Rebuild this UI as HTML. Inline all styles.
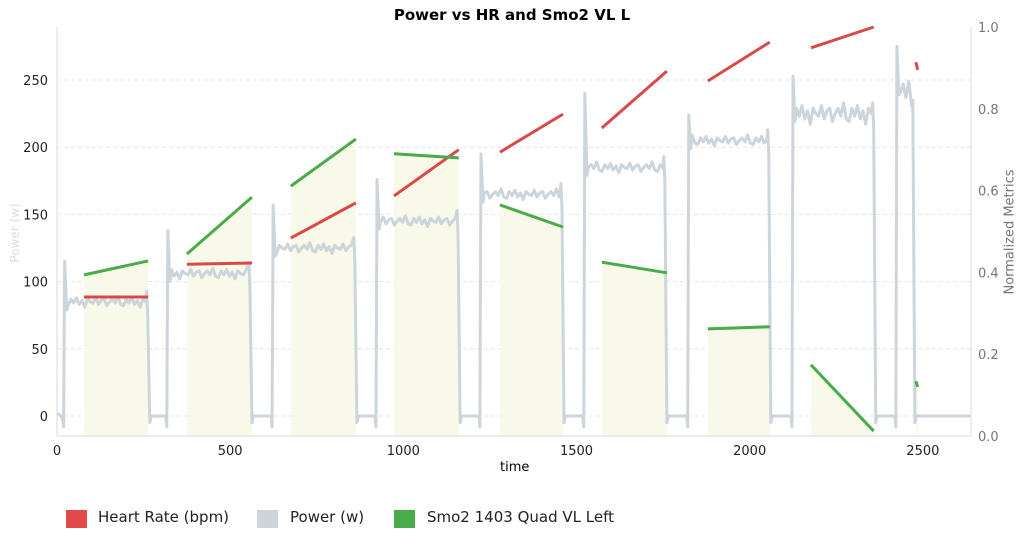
<!DOCTYPE html>
<html><head><meta charset="utf-8"><style>
body{margin:0;background:#fff;width:1024px;height:542px;overflow:hidden;font-family:"DejaVu Sans","Liberation Sans",sans-serif}
svg text{font-family:"DejaVu Sans","Liberation Sans",sans-serif}
.lg{position:absolute;top:508px;font-size:15px;color:#222;white-space:nowrap}
.sw{position:absolute;top:510px;width:21px;height:18px}
</style></head><body>
<svg id="c" width="1024" height="542" xmlns="http://www.w3.org/2000/svg"></svg>
<script>
// ---- data ----
const xTicks=[0,500,1000,1500,2000,2500];
const yTicks=[0,50,100,150,200,250];
const rTicks=[0,0.2,0.4,0.6,0.8,1.0];
const intervalStart=[78,375,675,973,1279,1573,1879,2177,2480];
const intervalEnd=[263,563,863,1160,1461,1761,2058,2358,2485];
const hrStart=[0.34,0.42,0.484,0.587,0.694,0.753,0.868,0.949,0.914];
const hrEnd=[0.34,0.423,0.57,0.70,0.787,0.892,0.963,1.0,0.895];
const smoStart=[0.394,0.445,0.611,0.69,0.565,0.425,0.262,0.174,0.134];
const smoEnd=[0.428,0.584,0.726,0.68,0.511,0.399,0.267,0.012,0.12];
const stepStart=[22,320,624,924,1224,1524,1824,2125,2425];
const stepEnd=[262,557,860,1158,1458,1755,2055,2358,2471];
const stepPeak=[115,138,157,176,195,240,224,253,275];
const stepLevel=[85,106,125,145,165,185,205,225,245];
const wiggle=[-3,2,-1,3,-2,1,-4,2,0,-1,3,-2,1,2,-3,0,2,-1,4,-2];
const xMax=2639;

// ---- scales ----
const L=57,R=971,T=27,B=436;
const X=t=>L+(t)*(R-L)/xMax;
const Y=v=>416-v*1.344;
const N=v=>B-v*(B-T);
const svg=document.getElementById('c');
const NS='http://www.w3.org/2000/svg';
function mk(tag,attrs,parent){const e=document.createElementNS(NS,tag);for(const k in attrs)e.setAttribute(k,attrs[k]);(parent||svg).appendChild(e);return e;}

yTicks.forEach(v=>{const g=mk('line',{x1:L,x2:R,y1:Y(v),y2:Y(v),stroke:'#e6e6e6','stroke-dasharray':'4,3'});

});
intervalStart.forEach((s,i)=>{const p=mk('polygon',{points:`${X(s)},${B} ${X(s)},${N(smoStart[i])} ${X(intervalEnd[i])},${N(smoEnd[i])} ${X(intervalEnd[i])},${B}`,fill:'#f8f9e8'});

});
let pts=[[0,2],[12,0],[18,-5]];
stepStart.forEach((s,i)=>{
 pts.push([s-3,-8],[s,stepPeak[i]],[s+6,stepLevel[i]-6]);
 for(let t=s+10,k=i*3;t<stepEnd[i]-4;t+=8,k++)pts.push([t,stepLevel[i]+wiggle[k%wiggle.length]*(i>6?2:1)]);
 pts.push([stepEnd[i]-3,stepLevel[i]+(i==8?-15:8)],[stepEnd[i],stepLevel[i]-10],[stepEnd[i]+6,-5],[stepEnd[i]+10,0]);
 const nx=i<8?stepStart[i+1]-6:xMax-2;pts.push([nx,0]);
});
const pl=mk('polyline',{points:pts.map(p=>X(p[0])+','+Y(p[1])).join(' '),fill:'none',stroke:'#cdd5dc','stroke-width':3,'stroke-linejoin':'round'});


intervalStart.forEach((s,i)=>{
 const h=mk('line',{x1:X(s),x2:X(intervalEnd[i]),y1:N(hrStart[i]),y2:N(hrEnd[i]),stroke:'#d84a4a','stroke-width':3});
 
 
 const g=mk('line',{x1:X(s),x2:X(intervalEnd[i]),y1:N(smoStart[i]),y2:N(smoEnd[i]),stroke:'#4aab4a','stroke-width':3});
 
 
});
mk('line',{x1:L,x2:L,y1:T,y2:B,stroke:'#e3e6ea','stroke-width':1.5});
mk('line',{x1:R,x2:R,y1:T,y2:B,stroke:'#e3e6ea','stroke-width':1.5});
mk('line',{x1:L,x2:R,y1:B,y2:B,stroke:'#e3e6ea','stroke-width':1.5});
xTicks.forEach(v=>{const t=mk('text',{x:X(v),y:455,'text-anchor':'middle','font-size':13,fill:'#222'});t.textContent=v;

});
yTicks.forEach(v=>{const t=mk('text',{x:48,y:Y(v)+5,'text-anchor':'end','font-size':13,fill:'#222'});t.textContent=v;

});
rTicks.forEach(v=>{const t=mk('text',{x:978,y:N(v)+5,'font-size':13,fill:'#777'});t.textContent=v.toFixed(1);

});
</script>
<div style="position:absolute;left:0;top:6px;width:1024px;text-align:center;font-weight:bold;font-size:15px">Power vs HR and Smo2 VL L</div>
<div style="position:absolute;left:500px;top:460px;width:28px;text-align:center;font-size:13px;white-space:nowrap">time</div>
<div style="position:absolute;left:15px;top:233px;transform:translate(-50%,-50%) rotate(-90deg);font-size:12px;color:#d8dde2;white-space:nowrap">Power (w)</div>
<div style="position:absolute;left:1010px;top:232px;transform:translate(-50%,-50%) rotate(-90deg);font-size:13px;color:#777;white-space:nowrap">Normalized Metrics</div>
<span class="sw" style="left:66px;background:#e04a4a"></span>
<span class="lg" style="left:98px">Heart Rate (bpm)</span>
<span class="sw" style="left:257px;background:#cdd5dc"></span>
<span class="lg" style="left:290px">Power (w)</span>
<span class="sw" style="left:394px;background:#4aab4a"></span>
<span class="lg" style="left:427px">Smo2 1403 Quad VL Left</span>
</body></html>
